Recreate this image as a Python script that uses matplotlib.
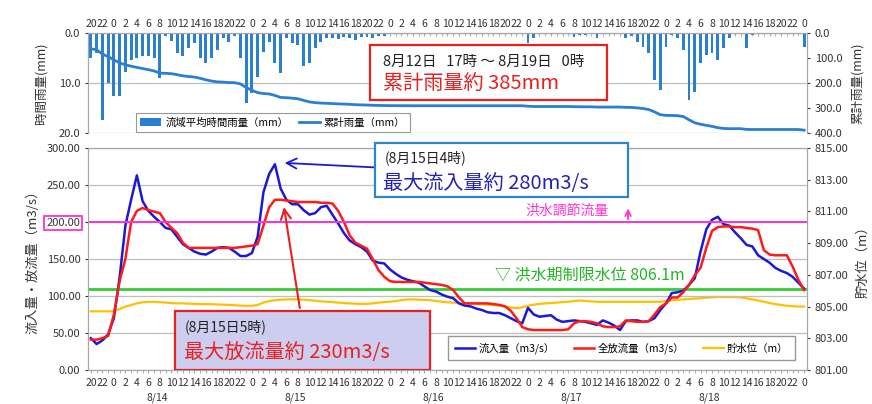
import numpy as np
import matplotlib.pyplot as plt
import matplotlib.transforms as mtransforms
from matplotlib.patches import Rectangle

plt.rcParams['font.family'] = ['Noto Sans CJK JP', 'DejaVu Sans']

# hourly series, first point = 8/13 20:00, last = 8/19 0:00
START_HOUR = 20
DAY_LABELS = ['8/14', '8/15', '8/16', '8/17', '8/18']

# basin average hourly rainfall (mm)
rain = [5, 4, 17.5, 10, 12.5, 12.5, 7.8, 5.4, 5, 4.5, 4.5, 5, 9, 0.5, 1.5, 4, 4.5, 3, 2, 5,
        6, 5, 3.3, 1, 1.7, 0.5, 5, 14, 12, 8.7, 3.7, 1.7, 6, 8, 1, 2, 2.3, 6.5, 6, 3,
        1.7, 1, 1, 1.2, 0.8, 1, 1.4, 0.8, 0.7, 1, 0.5, 0.5, 0.2, 0.2, 0.2, 0, 0.2, 0, 0, 0,
        0, 0, 0, 0, 0, 0, 0, 0, 0, 0, 0, 0, 0, 0, 0, 0, 2, 1, 0, 0,
        0, 0, 0, 0, 0.7, 0.3, 0.3, 0, 1, 0, 0, 0, 0, 1, 0.5, 1.7, 2.7, 4, 9.3, 11.3,
        2.7, 0.3, 1, 3.3, 13.3, 11.7, 6, 4.3, 4, 5.3, 3, 1, 0, 0, 3, 0.3, 0, 0, 0, 0,
        0, 0, 0, 0, 2.7]
RAIN_BEFORE = 58  # accumulated since 8/12 17:00 before the first hour shown

# inflow / total outflow (m3/s)
inflow = [43, 35, 40, 48, 70, 125, 195, 230, 263, 228, 215, 207, 200, 192, 190, 180, 170, 165, 160, 157,
          156, 160, 165, 166, 165, 160, 154, 154, 158, 180, 240, 265, 278, 245, 230, 224, 224, 216, 210, 212,
          220, 222, 210, 198, 185, 175, 170, 166, 160, 148, 145, 144, 136, 130, 125, 122, 120, 118, 113, 108,
          106, 102, 99, 97, 90, 87, 86, 83, 81, 78, 77, 77, 74, 70, 66, 63, 84, 75, 72, 73,
          74, 68, 65, 66, 67, 66, 65, 63, 61, 67, 64, 60, 54, 66, 67, 67, 65, 66, 70, 81,
          90, 104, 105, 107, 115, 124, 160, 190, 203, 207, 197, 195, 186, 178, 169, 167, 155, 150, 145, 138,
          134, 131, 126, 118, 110]
outflow = [41, 41, 43, 46, 75, 120, 150, 200, 215, 219, 216, 214, 212, 200, 192, 185, 172, 165, 165, 165,
           165, 165, 165, 165, 165, 165, 166, 167, 168, 170, 195, 220, 230, 230, 229, 228, 227, 227, 227, 227,
           226, 226, 225, 215, 200, 182, 172, 168, 164, 150, 135, 126, 120, 119, 119, 119, 119, 119, 118, 117,
           116, 115, 113, 108, 98, 90, 90, 90, 90, 90, 89, 88, 86, 80, 70, 58, 55, 54, 54, 54,
           54, 54, 54, 55, 63, 66, 66, 65, 63, 59, 58, 58, 59, 67, 66, 65, 65, 66, 75, 85,
           90, 98, 98, 105, 115, 128, 138, 165, 188, 193, 194, 194, 193, 193, 192, 191, 189, 162, 156, 155,
           155, 155, 140, 122, 108]

# reservoir water level (m)
level = [804.7, 804.7, 804.7, 804.7, 804.7, 804.85, 805.0, 805.1, 805.2, 805.27, 805.3, 805.3, 805.28, 805.25,
         805.22, 805.2, 805.2, 805.18, 805.17, 805.16, 805.15, 805.15, 805.13, 805.12, 805.1, 805.08, 805.06,
         805.05, 805.05, 805.1, 805.25, 805.35, 805.4, 805.43, 805.45, 805.46, 805.45, 805.43, 805.4, 805.37,
         805.33, 805.3, 805.28, 805.25, 805.22, 805.2, 805.18, 805.17, 805.17, 805.2, 805.25, 805.28, 805.3,
         805.35, 805.4, 805.45, 805.45, 805.43, 805.42, 805.4, 805.35, 805.3, 805.27, 805.25, 805.22, 805.2,
         805.18, 805.16, 805.14, 805.12, 805.1, 805.05, 805.0, 804.95, 804.9, 804.95, 805.05, 805.12, 805.17,
         805.2, 805.22, 805.25, 805.28, 805.3, 805.35, 805.38, 805.35, 805.32, 805.3, 805.3, 805.3, 805.3,
         805.3, 805.3, 805.3, 805.3, 805.3, 805.3, 805.3, 805.3, 805.35, 805.4, 805.42, 805.45, 805.48, 805.5,
         805.53, 805.56, 805.58, 805.6, 805.6, 805.6, 805.6, 805.58, 805.52, 805.45, 805.38, 805.3, 805.22,
         805.15, 805.1, 805.05, 805.02, 805.0, 805.0]

CONTROL_FLOW = 200     # 洪水調節流量
LIMIT_LEVEL = 806.1    # 洪水期制限水位
PEAK_IN_IDX, PEAK_IN = 32, 280
PEAK_OUT_IDX, PEAK_OUT = 33, 230

BLUE_RAIN = '#2a7fd0'
GRID = '#bfbfbf'
TXT = '#333333'

n = len(rain)
x = np.arange(n)
cum_rain = RAIN_BEFORE + np.cumsum(rain)
hour_ticks = x[::2]
hour_labels = [str((START_HOUR + i) % 24) for i in hour_ticks]


def style_spines(ax):
    for s in ax.spines.values():
        s.set_color('#a6a6a6')
        s.set_linewidth(0.8)


fig = plt.figure(figsize=(8.72, 4.04), dpi=100)

# ── Top: rainfall ──
ax_r = fig.add_axes([0.1009, 0.6708, 0.8245, 0.2475])
ax_c = ax_r.twinx()
ax_r.bar(x, rain, width=0.5, color=BLUE_RAIN, label='流域平均時間雨量（mm）', zorder=2)
ax_c.plot(x, cum_rain, color=BLUE_RAIN, lw=2, label='累計雨量（mm）')
ax_r.set_xlim(-0.5, n - 0.5)
ax_r.set_ylim(20, 0)
ax_c.set_ylim(400, 0)
ax_r.set_yticks([0, 10, 20])
ax_r.set_yticklabels(['0.0', '10.0', '20.0'])
ax_c.set_yticks([0, 100, 200, 300, 400])
ax_c.set_yticklabels(['0.0', '100.0', '200.0', '300.0', '400.0'])
ax_r.grid(axis='y', color=GRID, lw=0.9, zorder=0)
ax_r.xaxis.tick_top()
ax_r.set_xticks(hour_ticks)
ax_r.set_xticklabels(hour_labels, fontsize=7.5, color=TXT)
ax_r.set_xticks(x, minor=True)
ax_r.tick_params(axis='x', which='both', length=2, color='#a6a6a6', pad=3, direction='in')
ax_r.tick_params(axis='y', labelsize=8, colors=TXT, length=2)
ax_c.tick_params(axis='y', labelsize=8, colors=TXT, length=2)
ax_r.set_ylabel('時間雨量(mm)', fontsize=9, color=TXT, labelpad=8)
ax_c.set_ylabel('累計雨量(mm)', fontsize=9, color=TXT, labelpad=6)
for a in (ax_r, ax_c):
    style_spines(a)
    a.spines['bottom'].set_visible(False)

h1, l1 = ax_r.get_legend_handles_labels()
h2, l2 = ax_c.get_legend_handles_labels()
leg = ax_c.legend(h1 + h2, l1 + l2, loc='lower left', bbox_to_anchor=(0.06, -0.04), ncol=2,
                  fontsize=7.5, frameon=True, fancybox=False, edgecolor='#7f7f7f',
                  handlelength=2, handletextpad=0.4, columnspacing=1.0, borderpad=0.4)
leg.get_frame().set_linewidth(0.8)

ax_c.add_patch(Rectangle((0.392, 0.33), 0.33, 0.55, transform=ax_c.transAxes,
                         facecolor='white', edgecolor='#e8201f', lw=1.6, zorder=5))
ax_c.text(0.41, 0.71, '8月12日   17時 ～ 8月19日   0時', transform=ax_c.transAxes,
          fontsize=10.5, color='#222222', va='center', zorder=6)
ax_c.text(0.41, 0.49, '累計雨量約 385mm', transform=ax_c.transAxes,
          fontsize=14.5, color='#e8201f', va='center', zorder=6)

# ── Bottom: flows and water level ──
ax_h = fig.add_axes([0.1009, 0.0842, 0.8245, 0.5495])
ax_q = ax_h.twinx()
ax_q.set_zorder(ax_h.get_zorder() + 1)
ax_q.patch.set_visible(False)
ax_q.yaxis.tick_left()
ax_q.yaxis.set_label_position('left')
ax_h.yaxis.tick_right()
ax_h.yaxis.set_label_position('right')

ax_h.plot(x, level, color='#ffc000', lw=1.6, label='貯水位（m）')
ax_h.axhline(LIMIT_LEVEL, color='#33cc33', lw=2)
ax_q.plot(x, inflow, color='#1a1ad6', lw=1.8, label='流入量（m3/s）')
ax_q.plot(x, outflow, color='#ff1a1a', lw=1.8, label='全放流量（m3/s）')
ax_q.axhline(CONTROL_FLOW, color='#ff33cc', lw=1.4)

ax_h.set_xlim(-0.5, n - 0.5)
ax_q.set_ylim(0, 300)
ax_h.set_ylim(801, 815)
ax_q.set_yticks(np.arange(0, 301, 50))
ax_q.set_yticklabels([f'{v:.2f}' for v in np.arange(0, 301, 50)])
ax_h.set_yticks(np.arange(801, 816, 2))
ax_h.set_yticklabels([f'{v:.2f}' for v in np.arange(801, 816, 2)])
ax_q.grid(axis='y', color=GRID, lw=0.9)
ax_h.set_xticks(hour_ticks)
ax_h.set_xticklabels(hour_labels, fontsize=7.5, color=TXT)
ax_h.set_xticks(x, minor=True)
ax_h.tick_params(axis='x', which='both', length=2.5, color='#a6a6a6', pad=3)
ax_q.tick_params(axis='y', labelsize=8, colors=TXT, length=2)
ax_h.tick_params(axis='y', labelsize=8, colors=TXT, length=2)
ax_q.set_ylabel('流入量・放流量（m3/s）', fontsize=9.5, color=TXT, labelpad=5)
ax_h.set_ylabel('貯水位（m）', fontsize=9.5, color=TXT, labelpad=6)
for a in (ax_h, ax_q):
    style_spines(a)

for lab in ax_q.get_yticklabels():
    if lab.get_text() == '200.00':
        lab.set_bbox(dict(facecolor='none', edgecolor='#ff33cc', lw=1.3, pad=1.5))

trans = mtransforms.blended_transform_factory(ax_h.transData, ax_h.transAxes)
for k, d in enumerate(DAY_LABELS):
    ax_h.text(11.5 + 24 * k, -0.125, d, transform=trans, ha='center', va='center',
              fontsize=7.5, color=TXT)

hq, lq = ax_q.get_legend_handles_labels()
hh, lh = ax_h.get_legend_handles_labels()
leg2 = ax_q.legend(hq + hh, lq + lh, loc='lower right', bbox_to_anchor=(0.99, 0.02), ncol=3,
                   fontsize=7.5, frameon=True, fancybox=False, edgecolor='#7f7f7f',
                   handlelength=2, handletextpad=0.3, columnspacing=1.8, borderpad=0.6)
leg2.get_frame().set_linewidth(1)

# control flow / limit level labels
ax_q.text(0.608, 215 / 300, '洪水調節流量', transform=ax_q.transAxes, fontsize=10,
          color='#ff33cc', va='center')
ax_q.annotate('', xy=(93.4, 222), xytext=(93.4, CONTROL_FLOW),
              arrowprops=dict(arrowstyle='->', color='#ff33cc', lw=1.3))
ax_q.text(0.566, 0.425, f'▽ 洪水期制限水位 {LIMIT_LEVEL}m', transform=ax_q.transAxes,
          fontsize=11.5, color='#22b422', va='center')

# peak inflow callout
ax_q.add_patch(Rectangle((0.399, 0.779), 0.352, 0.244, transform=ax_q.transAxes, clip_on=False,
                         facecolor='white', edgecolor='#2e86c8', lw=1.6, zorder=5))
ax_q.text(0.413, 0.955, '(8月15日4時)', transform=ax_q.transAxes, fontsize=10,
          color='#222222', va='center', zorder=6)
ax_q.text(0.411, 0.84, f'最大流入量約 {PEAK_IN}m3/s', transform=ax_q.transAxes, fontsize=14.5,
          color='#2323b8', va='center', zorder=6)
ax_q.annotate('', xy=(PEAK_IN_IDX + 1.2, PEAK_IN), xytext=(51.3, 273),
              arrowprops=dict(arrowstyle='->', color='#1a1ad6', lw=1.3, mutation_scale=18))

# peak outflow callout
ax_q.add_patch(Rectangle((0.121, 0.0), 0.355, 0.266, transform=ax_q.transAxes,
                         facecolor='#cdcdf0', edgecolor='#e8201f', lw=1.6, zorder=5))
ax_q.text(0.135, 0.195, '(8月15日5時)', transform=ax_q.transAxes, fontsize=10,
          color='#222222', va='center', zorder=6)
ax_q.text(0.133, 0.08, f'最大放流量約 {PEAK_OUT}m3/s', transform=ax_q.transAxes, fontsize=14.5,
          color='#e8201f', va='center', zorder=6)
ax_q.annotate('', xy=(PEAK_OUT_IDX + 0.5, PEAK_OUT - 6), xytext=(36.4, 80),
              arrowprops=dict(arrowstyle='->', color='#e8201f', lw=1.5, mutation_scale=18))

fig.savefig('out.png', dpi=100)
